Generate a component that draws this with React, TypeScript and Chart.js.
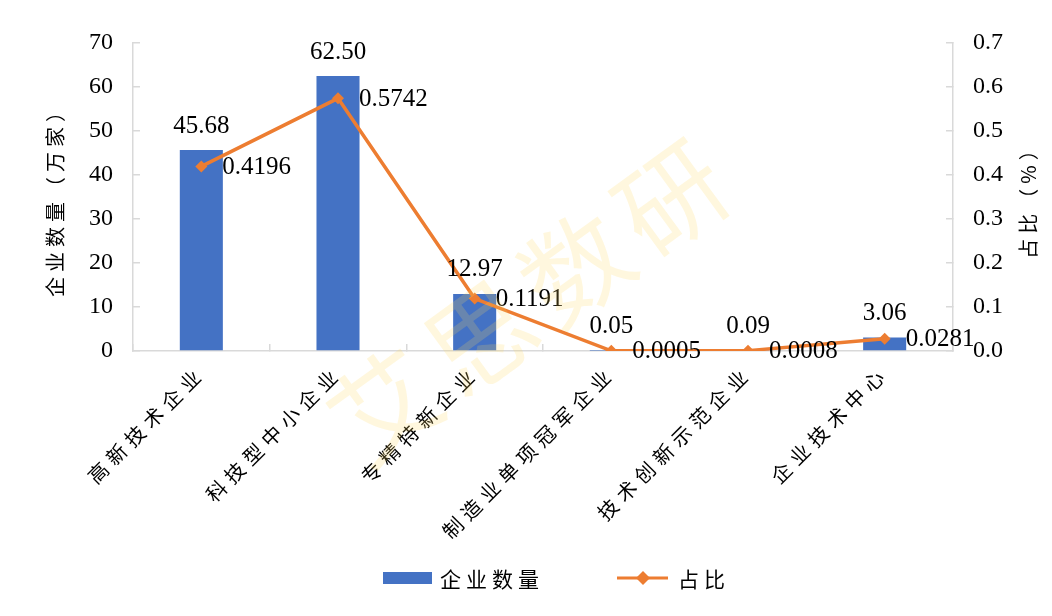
import React, { useEffect, useRef } from "react";
import { Chart, registerables } from "chart.js";

Chart.register(...registerables);

const categories = ["高新技术企业", "科技型中小企业", "专精特新企业", "制造业单项冠军企业", "技术创新示范企业", "企业技术中心"];
const enterpriseCounts = [45.68, 62.5, 12.97, 0.05, 0.09, 3.06];
const shares = [0.4196, 0.5742, 0.1191, 0.0005, 0.0008, 0.0281];
const leftTicks = [0, 10, 20, 30, 40, 50, 60, 70];
const rightTicks = [0, 0.1, 0.2, 0.3, 0.4, 0.5, 0.6, 0.7];
const seriesNames = ["企业数量", "占比"];
const axisTitles = ["企业数量（万家）", "占比（%）"];
const watermarkText = "艾思数研";

const BAR_COLOR = "#4472C4";
const LINE_COLOR = "#ED7D31";
const AXIS_COLOR = "#D9D9D9";
const SERIF = '"Liberation Serif", "Noto Sans CJK SC", serif';
const CJK = '"Noto Sans CJK SC", "Liberation Serif", sans-serif';

const W = 1052;
const H = 616;

const patchPlugin = {
  id: "patchText",
  beforeDraw(chart: any) {
    const ctx = chart.ctx;
    const patch = (obj: any, method: string, fn: (orig: any, args: any[]) => void) => {
      if (!obj || obj["__p_" + method]) return;
      const orig = obj[method].bind(obj);
      obj[method] = (...args: any[]) => fn(orig, args);
      obj["__p_" + method] = true;
    };
    patch(chart.scales.x, "drawLabels", (orig, args) => {
      ctx.save();
      (ctx as any).letterSpacing = "6px";
      orig(...args);
      ctx.restore();
    });
    patch(chart.scales.y, "drawTitle", (orig, args) => {
      ctx.save();
      (ctx as any).letterSpacing = "5px";
      orig(...args);
      ctx.restore();
    });
    patch(chart.scales.y1, "drawTitle", (orig, args) => {
      const s = chart.scales.y1;
      const tx = s.right - (20 * 1.2) / 2 - 12;
      const ty = (s.top + s.bottom) / 2;
      ctx.save();
      (ctx as any).letterSpacing = "5px";
      ctx.translate(tx, ty);
      ctx.rotate(Math.PI);
      ctx.translate(-tx, -ty);
      orig(...args);
      ctx.restore();
    });
  },
};

const labelPlugin = {
  id: "valueLabels",
  afterDatasetsDraw(chart: any) {
    const ctx = chart.ctx;
    ctx.save();
    ctx.font = `25px ${SERIF}`;
    ctx.fillStyle = "#000";
    const barMeta = chart.getDatasetMeta(1);
    barMeta.data.forEach((el: any, i: number) => {
      ctx.textAlign = "center";
      ctx.textBaseline = "middle";
      ctx.fillText(enterpriseCounts[i].toFixed(2), el.x, el.y - 24);
    });
    const lineMeta = chart.getDatasetMeta(0);
    lineMeta.data.forEach((el: any, i: number) => {
      ctx.textAlign = "left";
      ctx.textBaseline = "middle";
      ctx.fillText(shares[i].toFixed(4), el.x + 21, el.y + 1);
    });
    ctx.restore();
  },
};

const decorPlugin = {
  id: "decor",
  afterDraw(chart: any) {
    const ctx = chart.ctx;
    // legend
    ctx.save();
    const ly = 578;
    ctx.fillStyle = BAR_COLOR;
    ctx.fillRect(383, ly - 6, 49, 12);
    ctx.font = `21px ${CJK}`;
    (ctx as any).letterSpacing = "5px";
    ctx.fillStyle = "#000";
    ctx.textAlign = "left";
    ctx.textBaseline = "middle";
    ctx.fillText(seriesNames[0], 440, ly + 1);
    ctx.strokeStyle = LINE_COLOR;
    ctx.lineWidth = 3;
    ctx.beginPath();
    ctx.moveTo(617, ly);
    ctx.lineTo(668, ly);
    ctx.stroke();
    ctx.fillStyle = LINE_COLOR;
    ctx.beginPath();
    ctx.moveTo(643, ly - 7);
    ctx.lineTo(650, ly);
    ctx.lineTo(643, ly + 7);
    ctx.lineTo(636, ly);
    ctx.closePath();
    ctx.fill();
    ctx.fillStyle = "#000";
    ctx.fillText(seriesNames[1], 678, ly + 1);
    ctx.restore();

    // watermark
    ctx.save();
    ctx.translate(528, 302);
    ctx.rotate(-36 * Math.PI / 180);
    ctx.font = `106px ${CJK}`;
    (ctx as any).letterSpacing = "12px";
    ctx.textAlign = "center";
    ctx.textBaseline = "middle";
    ctx.fillStyle = "rgba(255, 214, 90, 0.2)";
    ctx.fillText(watermarkText, 6, 0);
    ctx.restore();
  },
};

export default function App() {
  const canvasRef = useRef<HTMLCanvasElement | null>(null);

  useEffect(() => {
    if (!canvasRef.current) return;
    const chart = new Chart(canvasRef.current, {
      type: "bar",
      data: {
        labels: categories,
        datasets: [
          {
            type: "line",
            label: seriesNames[1],
            data: shares,
            yAxisID: "y1",
            borderColor: LINE_COLOR,
            backgroundColor: LINE_COLOR,
            borderWidth: 3.5,
            pointStyle: "rectRot",
            pointRadius: 6,
            pointBorderWidth: 0,
            pointBackgroundColor: LINE_COLOR,
            tension: 0,
            order: 0,
          } as any,
          {
            type: "bar",
            label: seriesNames[0],
            data: enterpriseCounts,
            yAxisID: "y",
            backgroundColor: BAR_COLOR,
            borderWidth: 0,
            barPercentage: 1,
            categoryPercentage: 0.315,
            order: 1,
          },
        ],
      },
      options: {
        animation: false,
        responsive: true,
        maintainAspectRatio: false,
        layout: { padding: { left: 0, right: 0, top: 43, bottom: 65 } },
        plugins: {
          legend: { display: false },
          tooltip: { enabled: false },
        },
        scales: {
          x: {
            offset: true,
            grid: {
              display: true,
              drawOnChartArea: false,
              offset: true,
              tickLength: -7,
              color: AXIS_COLOR,
              lineWidth: 1.5,
            },
            border: { display: true, color: AXIS_COLOR, width: 1.5 },
            ticks: {
              autoSkip: false,
              minRotation: 45,
              maxRotation: 45,
              padding: 17,
              color: "#000",
              font: { family: CJK, size: 20 },
            },
            afterFit: (s: any) => {
              s.height = 200;
            },
          },
          y: {
            position: "left",
            min: 0,
            max: 70,
            afterBuildTicks: (s: any) => {
              s.ticks = leftTicks.map((v) => ({ value: v }));
            },
            grid: {
              display: true,
              drawOnChartArea: false,
              tickLength: -7,
              color: AXIS_COLOR,
              lineWidth: 1.5,
            },
            border: { display: true, color: AXIS_COLOR, width: 1.5 },
            ticks: {
              padding: 27,
              color: "#000",
              font: { family: SERIF, size: 24 },
              callback: (v: any) => String(v),
            },
            title: {
              display: true,
              text: axisTitles[0],
              color: "#000",
              font: { family: CJK, size: 20 },
              padding: { top: 43, bottom: 0 },
            },
            afterFit: (s: any) => {
              s.width = 133;
            },
          },
          y1: {
            position: "right",
            min: 0,
            max: 0.7,
            afterBuildTicks: (s: any) => {
              s.ticks = rightTicks.map((v) => ({ value: v }));
            },
            grid: {
              display: true,
              drawOnChartArea: false,
              tickLength: -7,
              color: AXIS_COLOR,
              lineWidth: 1.5,
            },
            border: { display: true, color: AXIS_COLOR, width: 1.5 },
            ticks: {
              padding: 27,
              color: "#000",
              font: { family: SERIF, size: 24 },
              callback: (v: any) => Number(v).toFixed(1),
            },
            title: {
              display: true,
              text: axisTitles[1],
              color: "#000",
              font: { family: CJK, size: 20 },
              padding: { top: 12, bottom: 0 },
            },
            afterFit: (s: any) => {
              s.width = 99;
            },
          },
        },
      },
      plugins: [patchPlugin, labelPlugin, decorPlugin],
    });
    return () => chart.destroy();
  }, []);

  return (
    <div style={{ position: "fixed", left: 0, top: 0, width: W, height: H, background: "#fff" }}>
      <canvas ref={canvasRef} />
    </div>
  );
}
